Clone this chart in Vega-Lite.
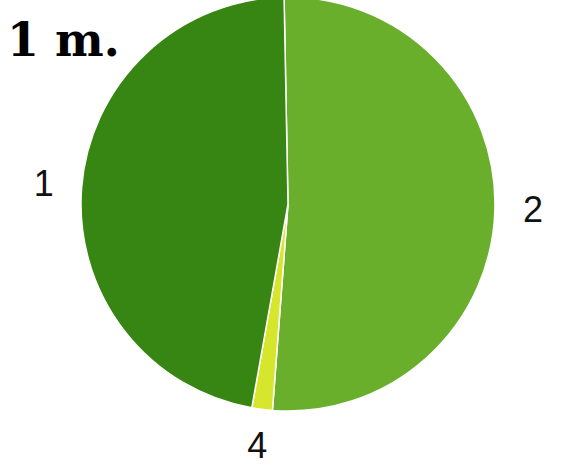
{
  "$schema": "https://vega.github.io/schema/vega-lite/v6.json",
  "width": 546,
  "height": 408,
  "autosize": {"type": "none"},
  "padding": {"left": 15, "top": 0, "right": 0, "bottom": 59},
  "background": "white",
  "title": {
    "text": "1 m.",
    "font": "DejaVu Serif",
    "fontSize": 46,
    "fontWeight": "bold",
    "color": "black",
    "anchor": "start",
    "frame": "group",
    "offset": -68,
    "dx": -8,
    "dy": 4
  },
  "data": {
    "values": [
      {"k": "2", "v": 51.5, "o": 1},
      {"k": "4", "v": 1.6, "o": 2},
      {"k": "1", "v": 46.9, "o": 3}
    ]
  },
  "encoding": {
    "theta": {"field": "v", "type": "quantitative", "stack": true, "scale": {"range": [-0.019, 6.2642]}},
    "order": {"field": "o", "type": "quantitative"}
  },
  "layer": [
    {
      "mark": {"type": "arc", "outerRadius": 207, "stroke": "white", "strokeWidth": 1.5},
      "encoding": {
        "color": {
          "field": "k",
          "type": "nominal",
          "scale": {"domain": ["1", "2", "4"], "range": ["#378512", "#6aaf2b", "#d6e62c"]},
          "legend": null
        }
      }
    },
    {
      "mark": {"type": "text", "radius": 245, "font": "Liberation Sans", "fontSize": 36, "color": "#111111", "align": "center", "baseline": "middle"},
      "encoding": {
        "text": {"field": "k", "type": "nominal"}
      }
    }
  ],
  "config": {"view": {"stroke": null}}
}
